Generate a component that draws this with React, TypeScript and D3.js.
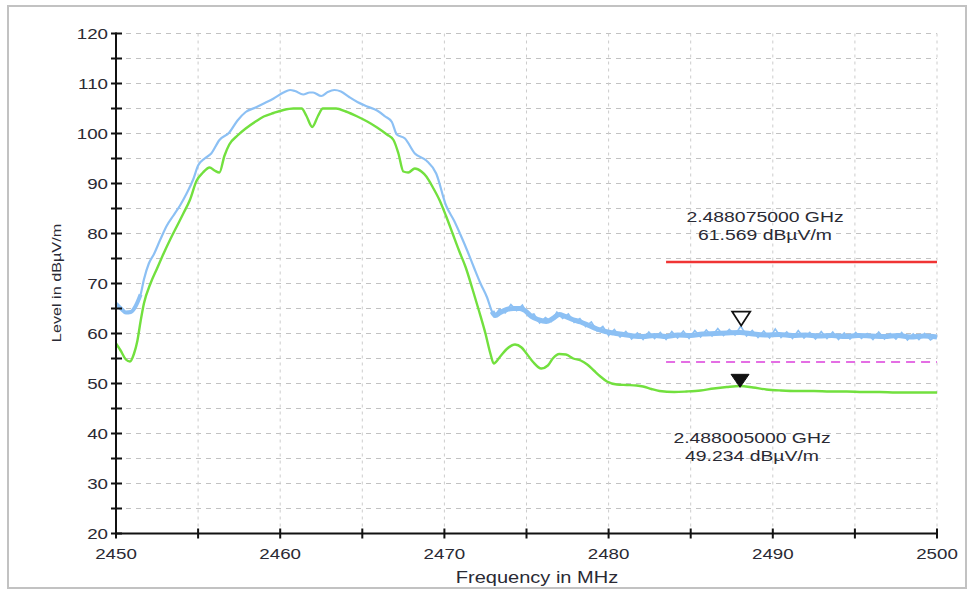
import React from 'react';
import * as d3 from 'd3';

// ---------- data ----------
const xTickValues = [2450, 2460, 2470, 2480, 2490, 2500];
const yTickValues = [20, 30, 40, 50, 60, 70, 80, 90, 100, 110, 120];

const blueFreq = [
  2450.0, 2450.3, 2450.6, 2450.9, 2451.2, 2451.5, 2451.7, 2452.0, 2452.3, 2452.7,
  2453.1, 2453.5, 2453.9, 2454.3, 2454.7, 2455.0, 2455.4, 2455.8, 2456.3, 2456.9,
  2457.4, 2457.9, 2458.5, 2459.0, 2459.6, 2460.2, 2460.6, 2460.9, 2461.4, 2461.8,
  2462.0, 2462.5, 2462.9, 2463.3, 2463.7, 2464.2, 2464.7, 2465.3, 2465.9, 2466.4,
  2466.8, 2467.1, 2467.6, 2468.2, 2468.9, 2469.5, 2470.1, 2470.6, 2471.0, 2471.4,
  2471.8, 2472.2, 2472.6, 2472.9, 2473.1, 2473.4, 2473.8, 2474.2, 2474.6, 2474.9,
  2475.3, 2475.7, 2476.2, 2476.6, 2477.0, 2477.3, 2477.8, 2478.3, 2478.8, 2479.3,
  2479.8, 2480.3, 2480.9, 2481.5, 2482.1, 2482.8, 2483.5, 2484.2, 2485.0, 2485.7,
  2486.5, 2487.2, 2488.0, 2488.8, 2489.6, 2490.4, 2491.2, 2492.0, 2492.8, 2493.6,
  2494.4, 2495.2, 2496.0, 2496.8, 2497.6, 2498.4, 2499.2, 2500.0,
];
const blueLevel = [
  66.0, 65.0, 64.2, 64.3, 65.5, 67.8, 70.8, 74.0, 75.8, 78.8,
  81.6, 83.6, 85.6, 88.0, 90.8, 93.6, 95.0, 96.0, 98.7, 100.2,
  102.6, 104.3, 105.2, 106.0, 107.0, 108.2, 108.7, 108.5, 107.8, 108.2,
  108.2, 107.5, 108.3, 108.7, 108.4, 107.3, 106.3, 105.4, 104.6, 103.4,
  102.3, 99.8, 99.0, 96.0, 94.6, 92.0, 85.6, 82.5, 79.6, 76.5,
  73.2, 70.0, 67.2, 64.4, 63.6, 64.2, 64.8, 65.0, 65.0, 64.6,
  63.4, 62.8, 62.4, 63.0, 63.8, 63.5, 62.8, 62.3, 61.6, 60.9,
  60.4, 60.1, 59.8, 59.5, 59.4, 59.6, 59.4, 59.7, 59.6, 59.9,
  60.0, 60.1, 60.2, 59.9, 59.7, 59.8, 59.6, 59.7, 59.5, 59.6,
  59.4, 59.6, 59.5, 59.4, 59.6, 59.3, 59.5, 59.3,
];

// fine structure of the noisy part of the blue (peak) trace
const blueNoiseFreq = [
  2473.0, 2473.35, 2473.7, 2474.05, 2474.4, 2474.75, 2475.1, 2475.45, 2475.8, 2476.15,
  2476.5, 2476.85, 2477.2, 2477.55, 2477.9, 2478.25, 2478.6, 2478.95, 2479.3, 2479.65,
  2480.0, 2480.35, 2480.7, 2481.05, 2481.4, 2481.75, 2482.1, 2482.45, 2482.8, 2483.15,
  2483.5, 2483.85, 2484.2, 2484.55, 2484.9, 2485.25, 2485.6, 2485.95, 2486.3, 2486.65,
  2487.0, 2487.35, 2487.7, 2488.05, 2488.4, 2488.75, 2489.1, 2489.45, 2489.8, 2490.15,
  2490.5, 2490.85, 2491.2, 2491.55, 2491.9, 2492.25, 2492.6, 2492.95, 2493.3, 2493.65,
  2494.0, 2494.35, 2494.7, 2495.05, 2495.4, 2495.75, 2496.1, 2496.45, 2496.8, 2497.15,
  2497.5, 2497.85, 2498.2, 2498.55, 2498.9, 2499.25, 2499.6, 2500.0,
];
const blueNoiseLevel = [
  63.2, 64.9, 64.1, 65.8, 64.6, 65.7, 63.6, 63.9, 62.1, 63.2,
  62.4, 64.3, 63.0, 63.9, 62.2, 63.0, 61.4, 62.3, 60.5, 61.4,
  59.6, 60.8, 59.3, 60.4, 58.9, 60.1, 58.8, 60.3, 59.0, 60.2,
  58.8, 60.4, 59.1, 60.5, 59.0, 60.6, 59.3, 60.7, 59.5, 61.0,
  59.6, 60.8, 59.7, 61.5, 59.5, 60.6, 59.2, 60.5, 59.1, 60.9,
  59.2, 60.3, 59.0, 60.6, 59.1, 60.2, 58.9, 60.4, 59.0, 60.3,
  58.8, 60.1, 58.9, 60.2, 59.0, 60.0, 58.8, 60.3, 58.9, 60.0,
  58.9, 60.2, 58.7, 59.9, 58.8, 60.0, 58.7, 59.6,
];

const greenFreq = [
  2450.0, 2450.3, 2450.6, 2450.85, 2451.1, 2451.3, 2451.5, 2451.7, 2452.1, 2452.5,
  2452.9, 2453.3, 2453.7, 2454.1, 2454.5, 2454.9, 2455.3, 2455.7, 2456.0, 2456.3,
  2456.6, 2456.9, 2457.4, 2457.9, 2458.5, 2459.0, 2459.6, 2460.2, 2460.8, 2461.3,
  2461.6, 2461.95, 2462.3, 2462.6, 2463.0, 2463.4, 2464.0, 2464.7, 2465.3, 2465.9,
  2466.5, 2466.9, 2467.2, 2467.5, 2467.8, 2468.2, 2468.6, 2468.9, 2469.3, 2469.7,
  2470.1, 2470.5, 2470.9, 2471.3, 2471.7, 2472.1, 2472.5, 2472.8, 2473.0, 2473.4,
  2473.8, 2474.3, 2474.7, 2475.0, 2475.4, 2475.9, 2476.3, 2476.6, 2477.0, 2477.4,
  2477.85, 2478.3, 2478.7, 2479.1, 2479.5, 2479.9, 2480.5, 2481.1, 2481.7, 2482.1,
  2482.6, 2483.1, 2484.0, 2484.75, 2485.6, 2486.4, 2487.2, 2488.0, 2488.8, 2489.6,
  2490.5, 2491.5, 2492.5, 2493.5, 2494.5, 2495.5, 2496.5, 2497.5, 2498.5, 2500.0,
];
const greenLevel = [
  58.0, 56.5, 54.8, 54.4, 56.0, 58.5, 62.5, 66.0, 70.0, 73.0,
  76.0, 78.8, 81.4, 84.0, 86.7, 90.5, 92.2, 93.2, 92.6, 92.2,
  95.5, 97.8, 99.6, 101.0, 102.4, 103.4, 104.1, 104.7, 105.0, 105.0,
  103.5, 101.3, 103.5, 105.0, 105.0, 105.0, 104.4, 103.4, 102.4, 101.2,
  99.8, 98.7, 96.0, 92.4, 92.2, 93.0, 92.4, 91.4, 89.2, 86.7,
  83.5, 80.0, 76.5, 73.2, 69.0, 64.6, 60.0, 56.0, 54.0, 55.4,
  56.9, 57.8, 57.2, 56.0, 54.3, 53.0, 53.6, 55.0, 55.9, 55.8,
  55.0, 54.6, 53.8, 52.6, 51.4, 50.4, 49.8, 49.7, 49.6, 49.4,
  48.9, 48.5, 48.3, 48.4, 48.6, 49.0, 49.3, 49.5, 49.2, 48.8,
  48.6, 48.5, 48.5, 48.4, 48.4, 48.3, 48.3, 48.2, 48.2, 48.2,
];

const peakLimitFreq = [2483.5, 2500];
const peakLimitLevel = [74.3, 74.3];
const avgLimitFreq = [2483.5, 2500];
const avgLimitLevel = [54.3, 54.3];

const markerFreq = [2488.075, 2488.005];
const markerLevel = [61.569, 49.234];
const markerLine1 = ['2.488075000 GHz', '2.488005000 GHz'];
const markerLine2 = ['61.569 dBµV/m', '49.234 dBµV/m'];

// ---------- layout ----------
const W = 969;
const H = 590;
const X0 = 116;
const X1 = 937;
const Y0 = 533.5;
const Y1 = 33.5;
const SX = 1.25;
const FONT = '"Liberation Sans", Arial, sans-serif';
const BLUE = '#8cc0f4';
const GREEN = '#72e03e';

const x = d3.scaleLinear().domain([2450, 2500]).range([X0, X1]);
const y = d3.scaleLinear().domain([20, 120]).range([Y0, Y1]);

const lineGen = d3
  .line<[number, number]>()
  .x((d) => x(d[0]))
  .y((d) => y(d[1]))
  .curve(d3.curveMonotoneX);

const linearGen = d3
  .line<[number, number]>()
  .x((d) => x(d[0]))
  .y((d) => y(d[1]));

function zip(a: number[], b: number[]): [number, number][] {
  return a.map((v, i) => [v, b[i]]);
}

function SText(props: {
  x: number;
  y: number;
  anchor?: string;
  size: number;
  fill?: string;
  children: React.ReactNode;
}) {
  return (
    <g transform={`translate(${props.x},${props.y}) scale(${SX},1)`}>
      <text
        textAnchor={props.anchor || 'middle'}
        fontSize={props.size}
        fontFamily={FONT}
        fill={props.fill || '#2a2a34'}
      >
        {props.children}
      </text>
    </g>
  );
}

export default function App() {
  const blue = zip(blueFreq, blueLevel);
  const blueNoisy = blue.filter((d) => d[0] >= 2472.9);
  const blueStart = blue.filter((d) => d[0] <= 2451.5);
  const blueNoise = zip(blueNoiseFreq, blueNoiseLevel);
  const green = zip(greenFreq, greenLevel);

  const minorY = d3.range(20, 120.1, 5);
  const minorX = d3.range(2450, 2500.1, 5);
  const gridY = d3.range(25, 120.1, 5);
  const gridX = d3.range(2455, 2500.1, 5);

  return (
    <svg
      width={W}
      height={H}
      style={{ position: 'absolute', left: 0, top: 0, display: 'block', background: '#fff' }}
    >
      <rect x={0} y={0} width={W} height={H} fill="#fff" />
      <rect x={8} y={6} width={958} height={582} fill="none" stroke="#c2c2c2" strokeWidth={2} />

      {/* grid */}
      {gridY.map((v) => (
        <line
          key={'gy' + v}
          x1={X0}
          x2={X1}
          y1={y(v)}
          y2={y(v)}
          stroke="#c2c2c2"
          strokeWidth={1}
          strokeDasharray="5,5"
        />
      ))}
      {gridX.map((f) => (
        <line
          key={'gx' + f}
          x1={x(f)}
          x2={x(f)}
          y1={Y1}
          y2={Y0}
          stroke="#cccccc"
          strokeWidth={1}
          strokeDasharray="3,4"
        />
      ))}

      {/* limit lines */}
      <path
        d={linearGen(zip(peakLimitFreq, peakLimitLevel)) || ''}
        stroke="#f03434"
        strokeWidth={2.5}
        fill="none"
      />
      <path
        d={linearGen(zip(avgLimitFreq, avgLimitLevel)) || ''}
        stroke="#e46ee4"
        strokeWidth={2}
        strokeDasharray="9,6"
        fill="none"
      />

      {/* traces */}
      <path d={lineGen(blue) || ''} stroke={BLUE} strokeWidth={2.2} fill="none" />
      <path d={lineGen(blueStart) || ''} stroke={BLUE} strokeWidth={4} fill="none" />
      <path d={lineGen(blueNoisy) || ''} stroke={BLUE} strokeWidth={5} fill="none" strokeLinejoin="round" />
      <path d={linearGen(blueNoise) || ''} stroke={BLUE} strokeWidth={1.6} fill="none" />
      <path d={lineGen(green) || ''} stroke={GREEN} strokeWidth={2.4} fill="none" />

      {/* markers */}
      <path
        d={`M${x(markerFreq[0]) - 9},${y(markerLevel[0]) - 14} L${x(markerFreq[0]) + 9},${y(markerLevel[0]) - 14} L${x(markerFreq[0])},${y(markerLevel[0])} Z`}
        fill="#fff"
        stroke="#111"
        strokeWidth={1.8}
      />
      <path
        d={`M${x(markerFreq[1]) - 9},${y(markerLevel[1]) - 13} L${x(markerFreq[1]) + 9},${y(markerLevel[1]) - 13} L${x(markerFreq[1])},${y(markerLevel[1])} Z`}
        fill="#111"
        stroke="#111"
        strokeWidth={1}
      />

      {/* marker labels */}
      <SText x={765} y={222} size={15.5}>{markerLine1[0]}</SText>
      <SText x={765} y={240} size={15.5}>{markerLine2[0]}</SText>
      <SText x={752} y={443} size={15.5}>{markerLine1[1]}</SText>
      <SText x={752} y={461} size={15.5}>{markerLine2[1]}</SText>

      {/* axes */}
      <line x1={X0} x2={X0} y1={Y1 - 1} y2={Y0} stroke="#111" strokeWidth={2} />
      <line x1={X0} x2={X1} y1={Y0} y2={Y0} stroke="#111" strokeWidth={2} />
      {minorY.map((v) => (
        <line key={'ty' + v} x1={X0 - 5} x2={X0 + 6} y1={y(v)} y2={y(v)} stroke="#111" strokeWidth={2} />
      ))}
      {minorX.map((f) => (
        <line key={'tx' + f} x1={x(f)} x2={x(f)} y1={Y0 - 5} y2={Y0 + 5} stroke="#111" strokeWidth={2} />
      ))}

      {yTickValues.map((v) => (
        <SText key={'ly' + v} x={108} y={y(v) + 5.5} anchor="end" size={15}>
          {v}
        </SText>
      ))}
      {xTickValues.map((f) => (
        <SText key={'lx' + f} x={x(f)} y={559} size={15}>
          {f}
        </SText>
      ))}

      <SText x={537} y={583} size={16}>Frequency in MHz</SText>
      <g transform={`translate(61,283) rotate(-90) scale(1.2,1)`}>
        <text textAnchor="middle" fontSize={13.5} fontFamily={FONT} fill="#2a2a34">
          Level in dBµV/m
        </text>
      </g>
    </svg>
  );
}
